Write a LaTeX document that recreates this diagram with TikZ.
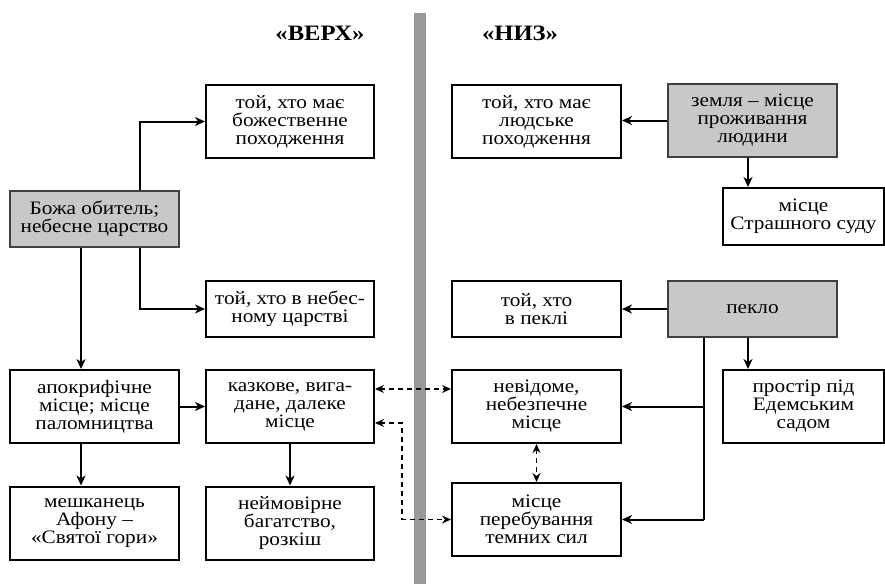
\documentclass[tikz,border=0pt]{standalone}
\usepackage{fontspec}
\setmainfont{Liberation Serif}[FakeStretch=1.12]
\usetikzlibrary{arrows.meta}
\definecolor{boxgray}{HTML}{C8C8C8}
\definecolor{bargray}{HTML}{999999}
\begin{document}
\begin{tikzpicture}[x=1pt,y=-1pt,
  box/.style={draw, line width=2pt, align=center, inner sep=0pt,
    font=\fontsize{19}{18}\selectfont},
  gbox/.style={box, fill=boxgray, draw=black!75},
  colA/.style={minimum width=169pt},
  colB/.style={minimum width=168pt},
  colC/.style={minimum width=169pt},
  colD/.style={minimum width=169pt},
  colE/.style={minimum width=161pt},
  tall/.style={minimum height=73pt},
  short/.style={minimum height=56pt},
  arr/.style={line width=2pt, -{Stealth[length=10pt,width=9pt,inset=3pt]}},
  darr/.style={line width=1.6pt, dashed, dash pattern=on 5pt off 4pt,
    {Stealth[length=9pt,width=8pt,inset=3pt]}-{Stealth[length=9pt,width=8pt,inset=3pt]}},
  head/.style={font=\fontsize{22}{24}\selectfont\bfseries},
]
\useasboundingbox (0,0) rectangle (885,584);
\fill[bargray] (414,13) rectangle (426,584);
\node[head] (verkh) at (320,33) {«ВЕРХ»};
\node[head] (nyz) at (520,33) {«НИЗ»};

% left side
\node[box, colB, tall] (a1) at (290,121.5) {той, хто має\\божественне\\походження};
\node[gbox, colA, short] (boz) at (94.5,219) {Божа обитель;\\небесне царство};
\node[box, colB, short] (a2) at (290,309) {той, хто в небес-\\ному царстві};
\node[box, colA, tall] (apo) at (94.5,406.5) {апокрифічне\\місце; місце\\паломництва};
\node[box, colB, tall] (kaz) at (290,406.5) {казкове, вига-\\дане, далеке\\місце};
\node[box, colA, tall] (mesh) at (94.5,523) {мешканець\\Афону –\\«Святої гори»};
\node[box, colB, tall] (neim) at (290,523) {неймовірне\\багатство,\\розкіш};

% right side
\node[box, colC, tall] (b1) at (536.5,121.5) {той, хто має\\людське\\походження};
\node[gbox, colD, tall] (zem) at (752.5,120.5) {земля – місце\\проживання\\людини};
\node[box, colE, minimum height=57pt] (strash) at (803.5,216.5) {місце\\Страшного суду};
\node[box, colC, short] (b2) at (536.5,309) {той, хто\\в пеклі};
\node[gbox, colD, short] (pek) at (752.5,309) {пекло};
\node[box, colE, tall] (prost) at (803.5,406.5) {простір під\\Едемським\\садом};
\node[box, colC, tall] (nev) at (536.5,406.5) {невідоме,\\небезпечне\\місце};
\node[box, colC, tall] (mis) at (536.5,519.5) {місце\\перебування\\темних сил};

% left connectors
\draw[arr] (140,0 |- boz.north) |- (a1.west);
\draw[arr] (140,0 |- boz.south) |- (a2.west);
\draw[arr] (81,0 |- boz.south) -- (81,0 |- apo.north);
\draw[arr] (apo.east) -- (kaz.west);
\draw[arr] (81,0 |- apo.south) -- (81,0 |- mesh.north);
\draw[arr] (kaz.south) -- (neim.north);

% right connectors
\draw[arr] (zem.west) -- (zem.west -| b1.east);
\draw[arr] (748,0 |- zem.south) -- (748,0 |- strash.north);
\draw[arr] (pek.west) -- (b2.east);
\draw[arr] (748,0 |- pek.south) -- (748,0 |- prost.north);
\coordinate (pk1) at (704,0 |- pek.south);
\coordinate (pk2) at (704,0 |- mis.east);
\draw[line width=2pt] (pk1) -- (pk2);
\draw[arr] (pk1 |- nev.east) -- (nev.east);
\draw[arr] (pk2) -- (mis.east);

% dashed
\draw[darr] (kaz.east |- 0,389) -- (nev.west |- 0,389);
\draw[darr] (nev.south) -- (mis.north);
\coordinate (dk) at (402,423);
\draw[darr] (kaz.east |- dk) -- (dk) |- (mis.west);
\end{tikzpicture}
\end{document}
